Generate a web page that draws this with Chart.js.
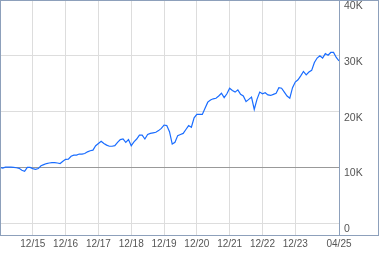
<!DOCTYPE html>
<html>
<head>
<meta charset="utf-8">
<script src="https://cdn.jsdelivr.net/npm/chart.js@4/dist/chart.umd.min.js"></script>
<style>
  body { margin: 0; background: #fff; }
  canvas { display: block; }
</style>
</head>
<body>
<canvas id="myChart" width="379" height="255"></canvas>
<script>
// growth of 10K, one value per month, starting 12/2014 (in thousands)
const values = [
  10.0, 9.9, 10.05, 10.05, 10.05, 10.0, 9.95, 9.85, 9.5, 9.3, 10.0, 10.0,
  9.8, 9.65, 9.8, 10.3, 10.5, 10.7, 10.8, 10.85, 10.85, 10.8, 10.7, 11.1,
  11.45, 11.5, 12.0, 12.2, 12.2, 12.4, 12.4, 12.5, 12.8, 13.0, 13.1, 13.9,
  14.3, 14.7, 14.3, 14.0, 13.8, 13.8, 13.9, 14.5, 15.0, 15.1, 14.5, 15.0,
  13.9, 14.6, 15.1, 15.8, 15.8, 15.1, 15.9, 16.1, 16.2, 16.3, 16.6, 17.0,
  17.6, 17.5, 16.4, 14.2, 14.5, 15.7, 15.9, 16.1, 16.8, 17.5, 17.2, 18.9,
  19.5, 19.5, 19.5, 20.6, 21.7, 22.1, 22.3, 22.4, 22.8, 23.3, 22.5, 23.2,
  24.2, 23.8, 23.5, 23.9, 23.1, 22.8, 21.8, 22.2, 22.6, 20.4, 22.2, 23.5,
  23.2, 23.4, 23.0, 22.9, 23.1, 23.3, 24.3, 24.2, 23.5, 22.8, 22.4, 24.3,
  25.3, 25.7, 26.4, 27.2, 26.6, 27.1, 27.4, 28.8, 29.6, 30.0, 29.6, 30.4,
  30.1, 30.6, 30.6, 29.7, 29.1
];

// x ticks: month index -> label
const xTickIdx = [12, 24, 36, 48, 60, 72, 84, 96, 108, 124];
const xTickLabels = ["12/15", "12/16", "12/17", "12/18", "12/19", "12/20", "12/21", "12/22", "12/23", "04/25"];

// y ticks
const yTickVals = [0, 10000, 20000, 30000, 40000];
const yTickLabels = ["0", "10K", "20K", "30K", "40K"];
const baseLine = 10000;

const frameColor = '#8da0bb';

// kader rundt om grafen
const framePlugin = {
    id: 'frame',
    afterDraw(chart) {
        const ctx = chart.ctx;
        const a = chart.chartArea;
        ctx.save();
        ctx.strokeStyle = frameColor;
        ctx.lineWidth = 1;
        ctx.strokeRect(0.5, 0.5, chart.width - 1, a.bottom);
        ctx.beginPath();
        ctx.moveTo(Math.round(a.right) + 0.5, 0);
        ctx.lineTo(Math.round(a.right) + 0.5, a.bottom + 0.5);
        ctx.stroke();
        ctx.restore();
    }
};

const data = {
    datasets: [{
        label: "growth",
        data: values.map((v, i) => ({ x: i, y: v * 1000 })),
        borderColor: '#1a6dff',
        borderWidth: 1.2,
        pointRadius: 0,
        tension: 0,
        fill: false
    }]
};

const config = {
    type: 'line',
    data: data,
    options: {
        responsive: false,
        animation: false,
        devicePixelRatio: 1,
        layout: { padding: 0 },
        plugins: {
            legend: { display: false },
            tooltip: { enabled: false }
        },
        scales: {
            x: {
                type: 'linear',
                min: 0,
                max: values.length - 1,
                border: { display: false },
                grid: { color: '#dddddd', lineWidth: 1, drawTicks: false },
                ticks: {
                    autoSkip: false,
                    maxRotation: 0,
                    padding: 3,
                    color: '#555',
                    font: { family: "'Liberation Sans', Arial, sans-serif", size: 10 },
                    callback: (v, i) => xTickLabels[i]
                },
                afterBuildTicks: (scale) => {
                    scale.ticks = xTickIdx.map(v => ({ value: v }));
                },
                afterFit: (scale) => {
                    scale.height = 20;
                    scale.paddingLeft = 0;
                    scale.paddingRight = 0;
                }
            },
            y: {
                position: 'right',
                min: -2100,
                max: 40000,
                border: { display: false },
                grid: {
                    color: (c) => (c.tick && c.tick.value === baseLine) ? '#999999' : '#dddddd',
                    lineWidth: 1,
                    drawTicks: false
                },
                ticks: {
                    padding: 5,
                    labelOffset: 6,
                    color: '#555',
                    font: { family: "'Liberation Sans', Arial, sans-serif", size: 10.5 },
                    callback: (v, i) => yTickLabels[i]
                },
                afterBuildTicks: (scale) => {
                    scale.ticks = yTickVals.map(v => ({ value: v }));
                },
                afterFit: (scale) => {
                    scale.width = 40;
                    scale.paddingTop = 0;
                    scale.paddingBottom = 0;
                }
            }
        }
    },
    plugins: [framePlugin]
};

window.onload = (function () {
    const myChart = new Chart(
        document.getElementById('myChart'),
        config
    );
});
</script>
</body>
</html>
